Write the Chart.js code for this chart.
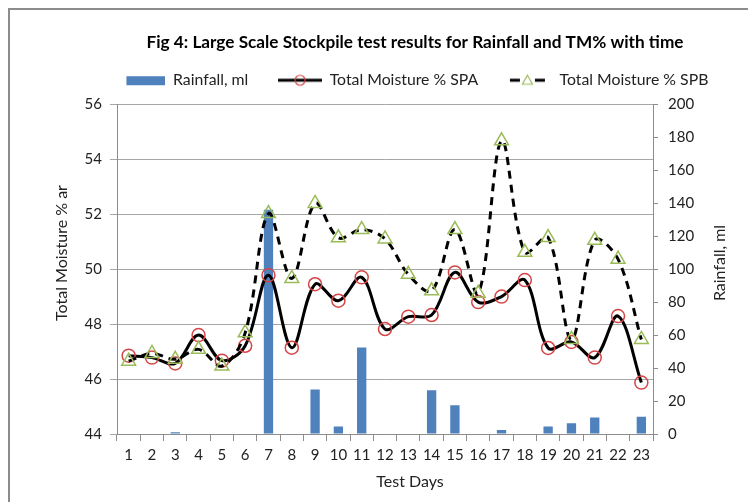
<!DOCTYPE html>
<html>
<head>
<meta charset="utf-8">
<script src="https://cdn.jsdelivr.net/npm/chart.js"></script>
<style>
  html, body { margin: 0; padding: 0; background: #fff; overflow: hidden; }
  #wrap { position: relative; width: 748px; height: 502px; overflow: hidden; }
  #frame { position: absolute; left: 8px; top: 8px; width: 900px; height: 600px; border: 2px solid #8c8c8c; }
  #chart { position: absolute; left: 0; top: 0; }
</style>
</head>
<body>
<div id="wrap">
  <div id="frame"></div>
  <canvas id="chart" width="830" height="502"></canvas>
</div>
<script>
// Dữ liệu
const dayLabels = ['1', '2', '3', '4', '5', '6', '7', '8', '9', '10', '11', '12',
  '13', '14', '15', '16', '17', '18', '19', '20', '21', '22', '23'];
const rainfall = [0, 0, 1, 0, 0, 0, 136, 0, 27, 4.5, 52.5, 0,
  0, 26.5, 17.5, 0, 2.5, 0, 4.5, 6.5, 10, 0, 10.5];
const moistureSPA = [46.85, 46.78, 46.57, 47.6, 46.67, 47.21, 49.78, 47.14, 49.45, 48.85, 49.7, 47.82,
  48.27, 48.33, 49.88, 48.8, 49.0, 49.6, 47.13, 47.35, 46.78, 48.29, 45.87];
const moistureSPB = [46.65, 46.93, 46.72, 47.08, 46.47, 47.68, 52.02, 49.66, 52.39, 51.14, 51.44, 51.1,
  49.81, 49.21, 51.44, 49.12, 54.67, 50.61, 51.15, 47.44, 51.05, 50.36, 47.44];
const moistureTicks = [44, 46, 48, 50, 52, 54, 56];
const rainfallTicks = [0, 20, 40, 60, 80, 100, 120, 140, 160, 180, 200];

const FONT = 'Lato, "Open Sans", sans-serif';
const TEXT_COLOR = '#222';
const BAR_COLOR = '#4f81bd';
const CIRCLE_COLOR = '#d64545';
const TRIANGLE_COLOR = '#9bbb59';
const AXIS_COLOR = '#8c8c8c';
const GRID_COLOR = '#a6a6a6';

/**
 * Vẽ biểu tượng chú thích kiểu Excel (đường + marker)
 */
function makeLegendIcon(kind) {
  const c = document.createElement('canvas');
  c.width = 44;
  c.height = 16;
  const g = c.getContext('2d');
  if (kind === 'bar') {
    g.fillStyle = BAR_COLOR;
    g.fillRect(5, 4, 39, 9);
    return c;
  }
  g.strokeStyle = '#000';
  g.lineWidth = 3;
  g.beginPath();
  if (kind === 'spb') {
    g.moveTo(2, 8); g.lineTo(12, 8);
    g.moveTo(27, 8); g.lineTo(37, 8);
  } else {
    g.moveTo(0, 8); g.lineTo(44, 8);
  }
  g.stroke();
  g.lineWidth = 1.2;
  if (kind === 'spa') {
    g.strokeStyle = CIRCLE_COLOR;
    g.beginPath();
    g.arc(22, 8, 5, 0, Math.PI * 2);
    g.stroke();
  } else {
    g.strokeStyle = TRIANGLE_COLOR;
    g.beginPath();
    g.moveTo(19.5, 3); g.lineTo(24.5, 12); g.lineTo(14.5, 12); g.closePath();
    g.stroke();
  }
  return c;
}

const legendIcons = [makeLegendIcon('bar'), makeLegendIcon('spa'), makeLegendIcon('spb')];

// Tiêu đề trục tự vẽ (trục phải đọc từ dưới lên như Excel)
const axisTitlesPlugin = {
  id: 'axisTitles',
  afterDraw(chart) {
    const ctx = chart.ctx;
    ctx.save();
    ctx.fillStyle = TEXT_COLOR;
    ctx.font = '16px ' + FONT;
    ctx.textAlign = 'center';
    ctx.textBaseline = 'middle';
    ctx.fillText('Test Days', 410, 482);
    ctx.translate(62, 253);
    ctx.rotate(-Math.PI / 2);
    ctx.fillText('Total Moisture % ar', 0, 0);
    ctx.restore();
    ctx.save();
    ctx.fillStyle = TEXT_COLOR;
    ctx.font = '16px ' + FONT;
    ctx.textAlign = 'center';
    ctx.textBaseline = 'middle';
    ctx.translate(720, 263);
    ctx.rotate(-Math.PI / 2);
    ctx.fillText('Rainfall, ml', 0, 0);
    ctx.restore();
  }
};

function initChart() {
  const ctx = document.getElementById('chart');
  new Chart(ctx, {
    type: 'bar',
    data: {
      labels: dayLabels,
      datasets: [
        {
          label: 'Rainfall, ml',
          data: rainfall,
          yAxisID: 'y1',
          backgroundColor: BAR_COLOR,
          borderWidth: 0,
          barPercentage: 0.4,
          categoryPercentage: 1,
          order: 3
        },
        {
          type: 'line',
          label: 'Total Moisture % SPA',
          data: moistureSPA,
          yAxisID: 'y',
          borderColor: '#000',
          borderWidth: 3,
          tension: 0.35,
          pointStyle: 'circle',
          pointRadius: 6.5,
          pointBorderWidth: 1.5,
          pointBorderColor: CIRCLE_COLOR,
          pointBackgroundColor: 'rgba(0,0,0,0)',
          order: 2
        },
        {
          type: 'line',
          label: 'Total Moisture % SPB',
          data: moistureSPB,
          yAxisID: 'y',
          borderColor: '#000',
          borderWidth: 3,
          borderDash: [8, 6],
          tension: 0.35,
          pointStyle: 'triangle',
          pointRadius: 8,
          pointBorderWidth: 1.5,
          pointBorderColor: TRIANGLE_COLOR,
          pointBackgroundColor: 'rgba(0,0,0,0)',
          order: 1
        }
      ]
    },
    options: {
      responsive: false,
      animation: false,
      devicePixelRatio: 1,
      layout: { padding: 0 },
      plugins: {
        tooltip: { enabled: false },
        title: {
          display: true,
          text: 'Fig 4: Large Scale Stockpile test results for Rainfall and TM% with time',
          color: '#000',
          font: { family: FONT, size: 17.2, weight: 'bold' },
          padding: { top: 31.8, bottom: -10.1 }
        },
        // khoảng đệm giữa chú thích và vùng vẽ
        subtitle: {
          display: true,
          text: '',
          weight: 900,
          font: { size: 1, lineHeight: 6.1 },
          padding: 0
        },
        legend: {
          display: true,
          position: 'top',
          labels: {
            color: TEXT_COLOR,
            font: { family: FONT, size: 15.8 },
            usePointStyle: true,
            pointStyleWidth: 43.5,
            padding: 30,
            generateLabels(chart) {
              return chart.data.datasets.map((ds, i) => ({
                text: ds.label,
                pointStyle: legendIcons[i],
                fillStyle: 'transparent',
                strokeStyle: 'transparent',
                lineWidth: 0,
                fontColor: TEXT_COLOR,
                hidden: false,
                datasetIndex: i
              }));
            }
          }
        }
      },
      scales: {
        x: {
          offset: true,
          afterFit: s => { s.height = 68; },
          grid: {
            offset: true,
            drawOnChartArea: false,
            drawTicks: true,
            tickLength: 7,
            color: AXIS_COLOR
          },
          border: { color: AXIS_COLOR },
          ticks: {
            color: TEXT_COLOR,
            font: { family: FONT, size: 15 },
            padding: 5,
            maxRotation: 0,
            autoSkip: false
          }
        },
        y: {
          position: 'left',
          min: moistureTicks[0],
          max: moistureTicks[moistureTicks.length - 1],
          afterBuildTicks: s => { s.ticks = moistureTicks.map(v => ({ value: v })); },
          afterFit: s => { s.width = 117; },
          grid: { color: GRID_COLOR, tickLength: 7 },
          border: { color: AXIS_COLOR },
          ticks: {
            color: TEXT_COLOR,
            font: { family: FONT, size: 15 },
            padding: 8
          }
        },
        y1: {
          position: 'right',
          min: rainfallTicks[0],
          max: rainfallTicks[rainfallTicks.length - 1],
          afterBuildTicks: s => { s.ticks = rainfallTicks.map(v => ({ value: v })); },
          afterFit: s => { s.width = 177; },
          grid: { drawOnChartArea: false, tickLength: 5, color: AXIS_COLOR },
          border: { color: AXIS_COLOR },
          ticks: {
            color: TEXT_COLOR,
            font: { family: FONT, size: 15 },
            padding: 10
          }
        }
      }
    },
    plugins: [axisTitlesPlugin]
  });
}

window.addEventListener('DOMContentLoaded', initChart);
</script>
</body>
</html>
